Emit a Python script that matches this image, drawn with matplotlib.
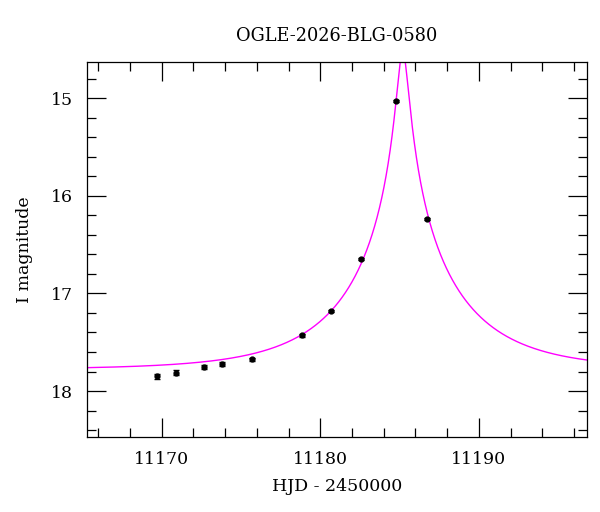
import numpy as np
import matplotlib
matplotlib.use("Agg")
import matplotlib.pyplot as plt
from matplotlib.ticker import MultipleLocator

# photometry
hjd = [11169.7, 11170.9, 11172.65, 11173.8, 11175.7, 11178.85, 11180.65, 11182.6, 11184.8, 11186.75]
mag = [17.85, 17.81, 17.755, 17.725, 17.675, 17.43, 17.18, 16.65, 15.025, 16.235]
err = [0.03, 0.025, 0.02, 0.02, 0.015, 0.015, 0.01, 0.01, 0.01, 0.01]

# point-lens model parameters
t0 = 11185.2
tE = 6.8
u0 = 0.05
I0 = 17.78

title = "OGLE-2026-BLG-0580"


def paczynski(t):
    u = np.sqrt(u0 ** 2 + ((t - t0) / tE) ** 2)
    A = (u ** 2 + 2) / (u * np.sqrt(u ** 2 + 4))
    return I0 - 2.5 * np.log10(A)


plt.rcParams['font.family'] = ['DejaVu Serif']

fig = plt.figure(figsize=(6, 5.12), dpi=100)
ax = fig.add_axes([0.145, 0.1465, 0.833, 0.7325])

t = np.linspace(11165.0, 11197.0, 4000)
ax.plot(t, paczynski(t), color='#ff00ff', lw=1.0, zorder=2)
ax.errorbar(hjd, mag, yerr=err, fmt='o', color='black', ms=3.5,
            elinewidth=1.0, capsize=2.5, capthick=1.0, zorder=3)

ax.set_xlim(11165.3, 11196.8)
ax.set_ylim(18.47, 14.63)

ax.xaxis.set_major_locator(MultipleLocator(10))
ax.xaxis.set_minor_locator(MultipleLocator(2))
ax.yaxis.set_major_locator(MultipleLocator(1))
ax.yaxis.set_minor_locator(MultipleLocator(0.2))
ax.tick_params(which='both', direction='in', top=True, right=True,
               labelsize=12.5, width=0.9, color='black')
ax.tick_params(which='major', length=14, pad=10)
ax.tick_params(which='minor', length=6.5)
for s in ax.spines.values():
    s.set_linewidth(0.9)

ax.set_xlabel("HJD - 2450000", fontsize=12.5, labelpad=7)
ax.set_ylabel("I magnitude", fontsize=12.5, labelpad=13)
ax.set_title(title, fontsize=12.8, pad=15)

fig.savefig("out.png", dpi=100)
